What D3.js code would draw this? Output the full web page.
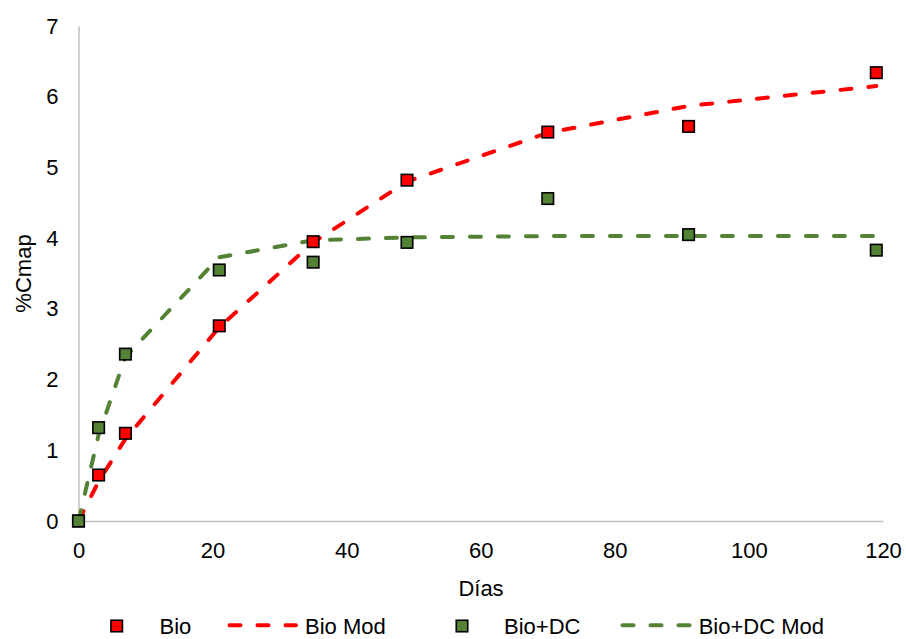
<!DOCTYPE html>
<html>
<head>
<meta charset="utf-8">
<script src="https://cdn.jsdelivr.net/npm/d3@7"></script>
<style>
  html, body { margin: 0; padding: 0; background: #fff; }
  svg { display: block; }
  text { font-family: "Liberation Sans", Arial, sans-serif; fill: #000; }
</style>
</head>
<body>
<svg id="chart" width="906" height="639"></svg>
<script>
// ---- data ----
const days = [0, 3, 7, 21, 35, 49, 70, 91, 119];
const bio = [0, 0.65, 1.24, 2.76, 3.95, 4.82, 5.50, 5.58, 6.34];
const bioMod = [0, 0.56, 1.16, 2.74, 3.94, 4.80, 5.49, 5.87, 6.15];
const bioDC = [0, 1.32, 2.36, 3.55, 3.66, 3.94, 4.56, 4.05, 3.83];
const bioDCMod = [0, 1.22, 2.32, 3.73, 3.97, 4.01, 4.03, 4.03, 4.03];
const xTicks = [0, 20, 40, 60, 80, 100, 120];
const yTicks = [0, 1, 2, 3, 4, 5, 6, 7];
const legendLabels = ["Bio", "Bio Mod", "Bio+DC", "Bio+DC Mod"];
const xTitle = "Días";
const yTitle = "%Cmap";

const RED = "#FF0000", GREEN = "#548235", GRID = "#BFBFBF";

const svg = d3.select("#chart");
const x = d3.scaleLinear().domain([0, 120]).range([78.5, 883]);
const y = d3.scaleLinear().domain([0, 7]).range([521, 26]);

// axes
const yAxis = d3.axisLeft(y).tickValues(yTicks).tickSize(0).tickPadding(20).tickFormat(d3.format("d"));
const xAxis = d3.axisBottom(x).tickValues(xTicks).tickSize(0).tickPadding(21).tickFormat(d3.format("d"));

const gy = svg.append("g").attr("transform", `translate(${x(0)},0)`).call(yAxis);
const gx = svg.append("g").attr("transform", `translate(0,${y(0)})`).call(xAxis);
[gx, gy].forEach(g => {
  g.select(".domain").attr("stroke", GRID).attr("stroke-width", 1.5);
  g.selectAll("text").style("font-size", "22px").attr("fill", "#000")
    .style("font-family", '"Liberation Sans", Arial, sans-serif');
});

// titles
svg.append("text").attr("x", 481).attr("y", 596).attr("text-anchor", "middle")
  .style("font-size", "22px").text(xTitle);
svg.append("text").attr("transform", `translate(31,${(y(0) + y(7)) / 2}) rotate(-90)`)
  .attr("text-anchor", "middle").style("font-size", "22px").text(yTitle);

// lines
const line = d3.line().x(d => x(d[0])).y(d => y(d[1]));
function drawLine(vals, color) {
  svg.append("path")
    .datum(days.map((d, i) => [d, vals[i]]))
    .attr("d", line)
    .attr("fill", "none")
    .attr("stroke", color)
    .attr("stroke-width", 4)
    .attr("stroke-linecap", "round")
    .attr("stroke-dasharray", "11,17");
}
drawLine(bioMod, RED);
drawLine(bioDCMod, GREEN);

// markers
const MS = 11.5;
function drawMarkers(vals, color) {
  svg.append("g").selectAll("rect")
    .data(days.map((d, i) => [d, vals[i]]))
    .join("rect")
    .attr("x", d => x(d[0]) - MS / 2)
    .attr("y", d => y(d[1]) - MS / 2)
    .attr("width", MS).attr("height", MS)
    .attr("fill", color).attr("stroke", "#000").attr("stroke-width", 1.6);
}
drawMarkers(bio, RED);
drawMarkers(bioDC, GREEN);

// legend
const legY = 626, textBase = 633.5;
const leg = svg.append("g");
// Bio marker
leg.append("rect").attr("x", 116.7 - MS / 2).attr("y", legY - MS / 2).attr("width", MS).attr("height", MS)
  .attr("fill", RED).attr("stroke", "#000").attr("stroke-width", 1.6);
leg.append("text").attr("x", 159.5).attr("y", textBase).style("font-size", "22px").text(legendLabels[0]);
// Bio Mod
leg.append("line").attr("x1", 229.5).attr("x2", 296).attr("y1", legY - 0.8).attr("y2", legY - 0.8)
  .attr("stroke", RED).attr("stroke-width", 4).attr("stroke-linecap", "round").attr("stroke-dasharray", "11,17");
leg.append("text").attr("x", 305).attr("y", textBase).style("font-size", "22px").text(legendLabels[1]);
// Bio+DC marker
leg.append("rect").attr("x", 462 - MS / 2).attr("y", legY - MS / 2).attr("width", MS).attr("height", MS)
  .attr("fill", GREEN).attr("stroke", "#000").attr("stroke-width", 1.6);
leg.append("text").attr("x", 504).attr("y", textBase).style("font-size", "22px").text(legendLabels[2]);
// Bio+DC Mod
leg.append("line").attr("x1", 622.5).attr("x2", 689.5).attr("y1", legY - 0.8).attr("y2", legY - 0.8)
  .attr("stroke", GREEN).attr("stroke-width", 4).attr("stroke-linecap", "round").attr("stroke-dasharray", "11,17");
leg.append("text").attr("x", 698.7).attr("y", textBase).style("font-size", "22px").text(legendLabels[3]);
</script>
</body>
</html>
